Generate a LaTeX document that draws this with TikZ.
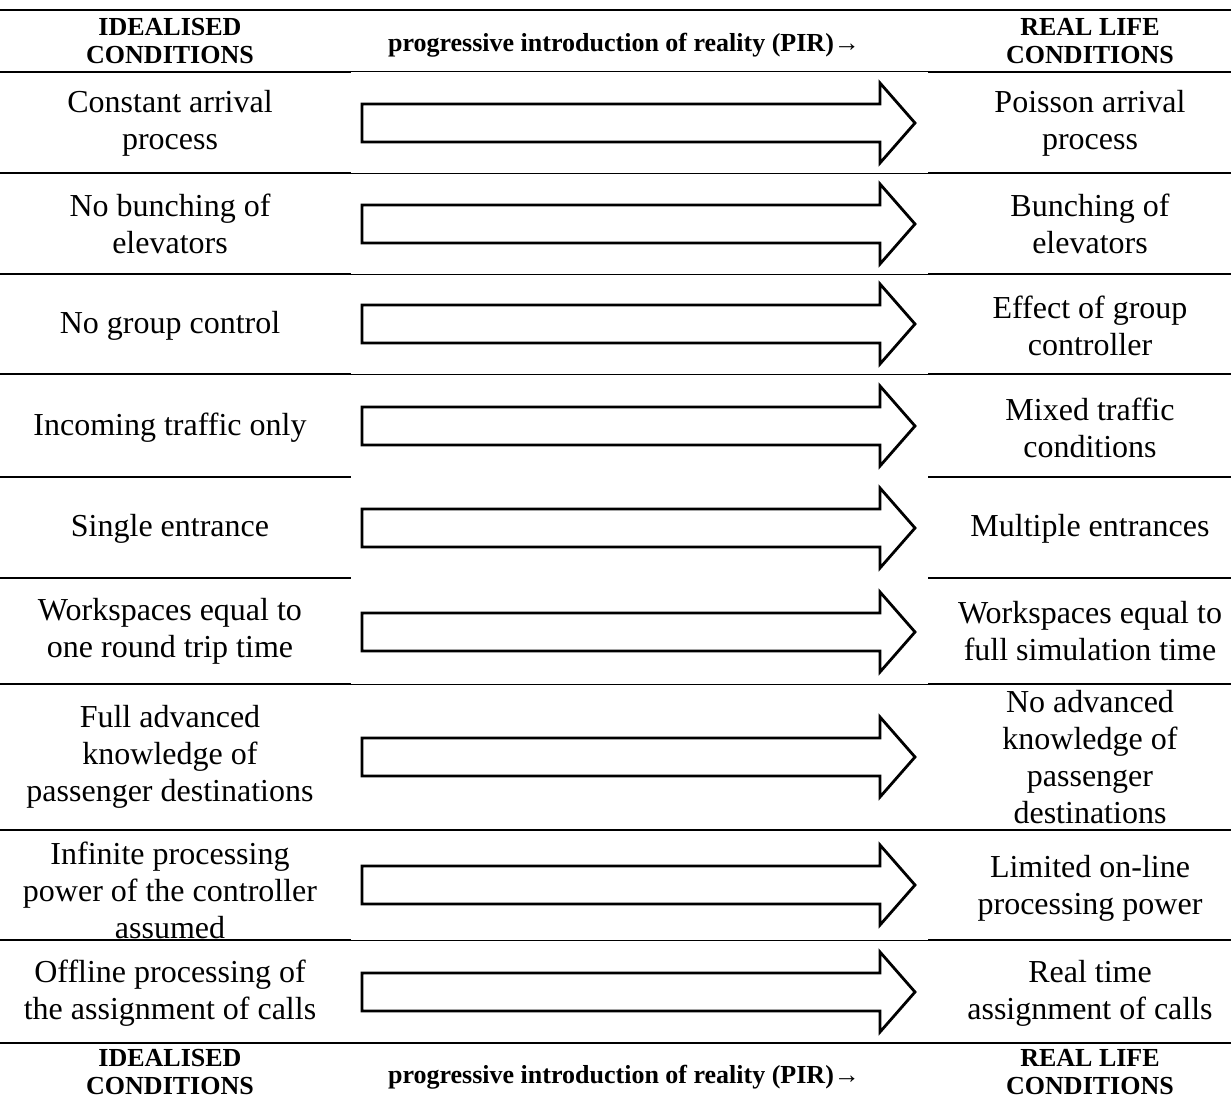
\documentclass[tikz,border=0pt]{standalone}
\usepackage{fontspec}
\setmainfont{Liberation Serif}
\begin{document}
\begin{tikzpicture}[x=0.5pt,y=-0.5pt,
  thickrule/.style={line width=1.35pt},
  thinrule/.style={line width=0.5pt},
  blockarrow/.style={draw, line width=1.4pt, fill=white, line join=miter},
  celltext/.style={align=center, inner sep=0pt, font=\fontsize{16}{18.5}\selectfont},
  headtext/.style={align=center, inner sep=0pt, font=\bfseries\fontsize{13}{13.6}\selectfont}]
\useasboundingbox (0,0) rectangle (1231,1102);
\fill[white] (0,0) rectangle (1231,1102);
% rules
\draw[thickrule] (0,10) -- (1231,10);
\foreach \yy in {72,173,274,374,684,940} {
  \draw[thickrule] (0,\yy) -- (351,\yy);
  \draw[thinrule] (351,\yy) -- (928,\yy);
  \draw[thickrule] (928,\yy) -- (1231,\yy);
}
\foreach \yy in {477,578} {
  \draw[thickrule] (0,\yy) -- (351,\yy);
  \draw[thickrule] (928,\yy) -- (1231,\yy);
}
\draw[thickrule] (0,830) -- (1231,830);
\draw[thickrule] (0,1043) -- (1231,1043);
% block arrows
\foreach \c in {123,224,324,426,528,632,757,885,992} {
  \draw[blockarrow] (362,{\c-19}) -- (880,{\c-19}) -- (880,{\c-40}) -- (915,\c)
     -- (880,{\c+40}) -- (880,{\c+19}) -- (362,{\c+19}) -- cycle;
}
% header
\node[headtext] (hL) at (170,41) {IDEALISED\\CONDITIONS};
\node[headtext] (hM) at (624,45) {progressive introduction of reality (PIR)→};
\node[headtext] (hR) at (1090,41) {REAL LIFE\\CONDITIONS};
% rows
\node[celltext] (l1) at (170,123) {Constant arrival\\process};
\node[celltext] (r1) at (1090,123) {Poisson arrival\\process};
\node[celltext] (l2) at (170,224) {No bunching of\\elevators};
\node[celltext] (r2) at (1090,224) {Bunching of\\elevators};
\node[celltext] (l3) at (170,326) {No group control};
\node[celltext] (r3) at (1090,326) {Effect of group\\controller};
\node[celltext] (l4) at (170,428) {Incoming traffic only};
\node[celltext] (r4) at (1090,428) {Mixed traffic\\conditions};
\node[celltext] (l5) at (170,529) {Single entrance};
\node[celltext] (r5) at (1090,529) {Multiple entrances};
\node[celltext] (l6) at (170,631) {Workspaces equal to\\one round trip time};
\node[celltext] (r6) at (1090,631) {Workspaces equal to\\full simulation time};
\node[celltext] (l7) at (170,757) {Full advanced\\knowledge of\\passenger destinations};
\node[celltext] (r7) at (1090,757) {No advanced\\knowledge of\\passenger\\destinations};
\node[celltext] (l8) at (170,890) {Infinite processing\\power of the controller\\assumed};
\node[celltext] (r8) at (1090,888) {Limited on-line\\processing power};
\node[celltext] (l9) at (170,993) {Offline processing of\\the assignment of calls};
\node[celltext] (r9) at (1090,993) {Real time\\assignment of calls};
% footer
\node[headtext] (fL) at (170,1072) {IDEALISED\\CONDITIONS};
\node[headtext] (fM) at (624,1077) {progressive introduction of reality (PIR)→};
\node[headtext] (fR) at (1090,1072) {REAL LIFE\\CONDITIONS};
\end{tikzpicture}
\end{document}
